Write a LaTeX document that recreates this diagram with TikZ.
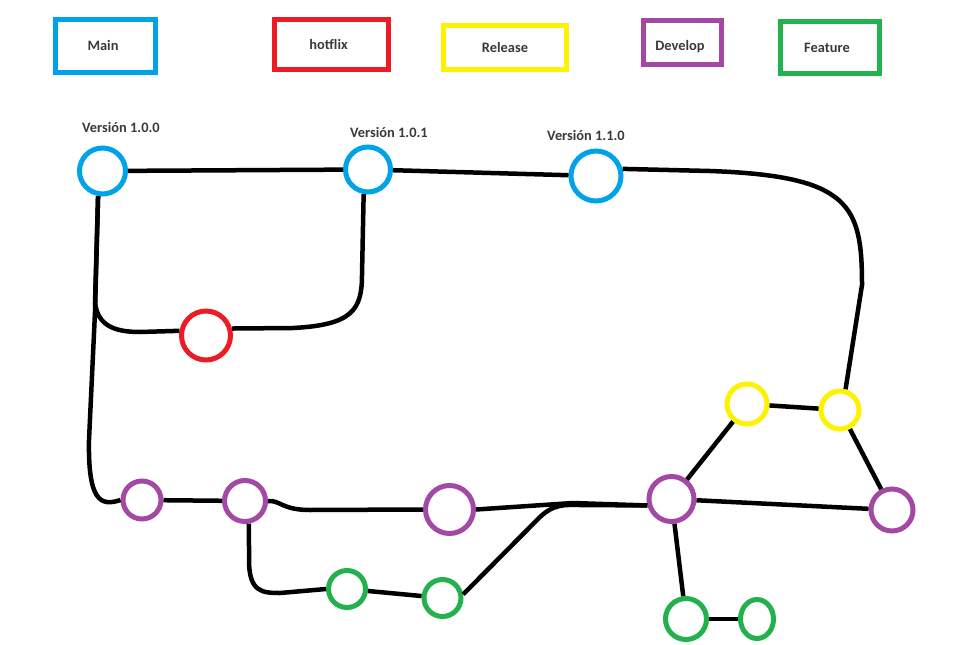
\documentclass[tikz,border=0pt]{standalone}
\usepackage{fontspec}
\setmainfont{Carlito}
\usetikzlibrary{shapes.geometric}
\definecolor{mainBlue}{HTML}{00A2E8}
\definecolor{hotRed}{HTML}{ED1C24}
\definecolor{relYellow}{HTML}{FFF200}
\definecolor{devPurple}{HTML}{A349A4}
\definecolor{featGreen}{HTML}{22B14C}
\definecolor{txtGray}{HTML}{3A3A3A}
\tikzstyle{legendBox}=[shape = rectangle, line width = 5pt, inner sep = 0pt, text = txtGray, font = \bfseries\fontsize{14.4}{16}\selectfont]
\tikzstyle{commit}=[shape = circle, line width = 5pt, inner sep = 0pt]
\tikzstyle{verLabel}=[text = txtGray, inner sep = 0pt, font = \bfseries\fontsize{14.4}{16}\selectfont]
\begin{document}
\begin{tikzpicture}[x = 1pt, y = -1pt]
\useasboundingbox (0,0) rectangle (975,645);
\tikzstyle{link}=[line width = 4.5pt, black]
\node[legendBox, draw = mainBlue, minimum width = 100pt, minimum height = 53pt] (lmain) at (105.5,46) {\hspace*{-5pt}Main};
\node[legendBox, draw = hotRed, minimum width = 114pt, minimum height = 50pt] (lhot) at (331.5,44.5) {\hspace*{-6pt}hotflix};
\node[legendBox, draw = relYellow, minimum width = 123pt, minimum height = 44pt] (lrel) at (505,47.5) {Release};
\node[legendBox, draw = devPurple, minimum width = 78pt, minimum height = 44pt] (ldev) at (682.5,42.5) {\raisebox{-8pt}[0pt][0pt]{\hspace*{-5pt}Develop}};
\node[legendBox, draw = featGreen, minimum width = 99pt, minimum height = 52pt] (lfeat) at (830,47.5) {\hspace*{-6pt}Feature};
\node[verLabel] (t0) at (121,127) {Versión 1.0.0};
\node[verLabel] (t1) at (389,132) {Versión 1.0.1};
\node[verLabel] (t2) at (586,135) {Versión 1.1.0};
\node[commit, draw = mainBlue, minimum size = 46pt] (m0) at (102.5,171) {};
\node[commit, draw = mainBlue, minimum size = 45pt] (m1) at (368,169.5) {};
\node[commit, draw = mainBlue, minimum size = 50pt] (m2) at (596,176) {};
\node[commit, draw = hotRed, minimum size = 49pt] (h0) at (206,335.5) {};
\node[commit, draw = relYellow, minimum size = 40pt] (r0) at (747,404) {};
\node[commit, draw = relYellow, minimum size = 38pt] (r1) at (840,410) {};
\node[commit, draw = devPurple, minimum size = 38pt] (d0) at (142,500) {};
\node[commit, draw = devPurple, minimum size = 41pt] (d1) at (245,501) {};
\node[commit, draw = devPurple, minimum size = 48pt] (d2) at (449.5,509.5) {};
\node[commit, draw = devPurple, minimum size = 45pt] (d3) at (671.5,499) {};
\node[commit, draw = devPurple, minimum size = 42pt] (d4) at (892,510) {};
\node[commit, draw = featGreen, minimum size = 37pt] (f0) at (347,589) {};
\node[commit, draw = featGreen, minimum size = 37pt] (f1) at (442.5,598) {};
\node[commit, draw = featGreen, minimum size = 41pt] (f2) at (686,619) {};
\node[commit, shape = ellipse, draw = featGreen, minimum width = 33pt, minimum height = 39pt] (f3) at (757,619) {};
\draw[link] (m0) -- (m1);
\draw[link] (m1) -- (m2);
\draw[link] (m2.15) -- (710,171) .. controls (850,176) and (862,205) .. (862,285) -- (r1.75);
\draw[link] (m0.-100) -- (95,303) .. controls (98,326) and (115,332) .. (140,332) -- (h0.170);
\draw[link] (m0.-100) -- (95,312) -- (89,440) .. controls (88,500) and (100,507) .. (d0.west);
\draw[link] (h0.15) -- (293,328) .. controls (352,325) and (362,310) .. (362,275) -- (m1.-100);
\draw[link] (d0) -- (d1);
\draw[link] (d1.east) .. controls (280,500) and (282,510) .. (310,510) -- (d2.west);
\draw[link] (d1.-80) -- (249,560) .. controls (249,592) and (262,593) .. (280,593) -- (f0.west);
\draw[link] (f0) -- (f1);
\draw[link] (f1.10) -- (537,520) .. controls (553,503) and (565,505) .. (580,505) -- (d3.195);
\draw[link] (d2.east) -- (573,503) -- (d3.195);
\draw[link] (d3) -- (r0);
\draw[link] (r0) -- (r1);
\draw[link] (r1) -- (d4);
\draw[link] (d3) -- (d4);
\draw[link] (d3) -- (f2);
\draw[link] (f2) -- (f3);
\end{tikzpicture}
\end{document}
